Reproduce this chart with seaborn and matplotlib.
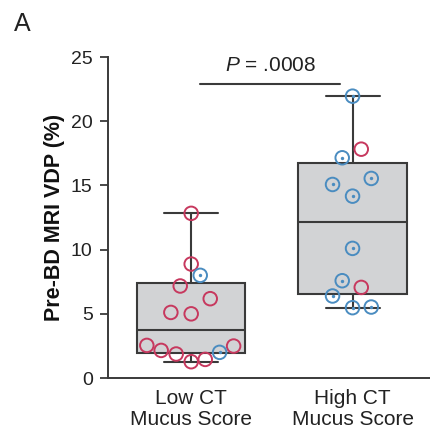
import matplotlib
matplotlib.use("Agg")
import matplotlib.pyplot as plt
import numpy as np
import pandas as pd
import seaborn as sns

# values (VDP %) with the horizontal jitter of each point
groups = ["Low CT\nMucus Score", "High CT\nMucus Score"]

low_vdp = [12.83, 8.88, 8.0, 7.17, 6.18, 5.11, 5.0, 2.54, 2.15, 1.87, 1.27, 1.45, 2.0, 2.49]
low_jitter = [0.0, 0.0, 0.056, -0.068, 0.118, -0.126, 0.0, -0.275, -0.186, -0.093, 0.0, 0.087, 0.176, 0.263]
low_kind = ["red", "red", "blue", "red", "red", "red", "red", "red", "red", "red", "red", "red", "blue", "red"]

high_vdp = [21.96, 17.83, 17.16, 15.08, 15.55, 14.17, 10.1, 7.58, 7.06, 6.39, 5.48, 5.53]
high_jitter = [0.0, 0.054, -0.064, -0.124, 0.116, 0.0, 0.0, -0.064, 0.054, -0.124, 0.0, 0.116]
high_kind = ["blue", "red", "blue", "blue", "blue", "blue", "blue", "blue", "red", "blue", "blue", "blue"]

p_label = "$P$ = .0008"
yticks = [0, 5, 10, 15, 20, 25]

RED = "#c7385e"
BLUE = "#4a8cc0"
DARK = "#3a3a3a"
BOXFILL = "#d2d3d5"

df = pd.DataFrame({
    "group": [0] * len(low_vdp) + [1] * len(high_vdp),
    "vdp": low_vdp + high_vdp,
    "jitter": low_jitter + high_jitter,
    "kind": low_kind + high_kind,
})
df["x"] = df["group"] + df["jitter"]

sns.set_theme(style="ticks")
plt.rcParams["font.family"] = ["Liberation Sans", "DejaVu Sans"]
plt.rcParams["mathtext.fontset"] = "custom"
plt.rcParams["mathtext.it"] = "Liberation Sans:italic"
plt.rcParams["mathtext.rm"] = "Liberation Sans"

fig = plt.figure(figsize=(4.30, 4.33), dpi=100)
ax = fig.add_axes([0.251, 0.127, 0.749, 0.741])

# box stats with the (n+1)p quartile rule, whiskers at min / max
stats = []
for g, lab in enumerate(groups):
    v = df.loc[df["group"] == g, "vdp"].to_numpy()
    q1, med, q3 = np.percentile(v, [25, 50, 75], method="weibull")
    stats.append({"med": med, "q1": q1, "q3": q3,
                  "whislo": v.min(), "whishi": v.max(), "fliers": [], "label": lab})

line_kw = dict(color=DARK, linewidth=1.5)
ax.bxp(stats, positions=[0, 1], widths=0.67, patch_artist=True, showfliers=False,
       boxprops=dict(facecolor=BOXFILL, edgecolor=DARK, linewidth=1.5),
       medianprops=line_kw, whiskerprops=line_kw, capprops=line_kw)

for kind, col in [("red", RED), ("blue", BLUE)]:
    sub = df[df["kind"] == kind]
    sns.scatterplot(data=sub, x="x", y="vdp", ax=ax, color=col, facecolor="none",
                    edgecolor=col, s=95, linewidth=1.4, zorder=3, legend=False)
blue = df[df["kind"] == "blue"]
sns.scatterplot(data=blue, x="x", y="vdp", ax=ax, color=BLUE, edgecolor=BLUE, s=6,
                linewidth=0, zorder=4, legend=False)

# significance bracket
ax.plot([0.056, 0.925], [22.87, 22.87], color=DARK, linewidth=1.5)
ax.text(0.49, 23.9, p_label, ha="center", va="baseline", fontsize=15, color="#222222")

ax.set_xlim(-0.516, 1.48)
ax.set_ylim(0, 25)
ax.set_yticks(yticks)
ax.set_xticks([0, 1])
ax.set_xticklabels(groups, fontsize=15, color="#222222", linespacing=1.15)
ax.tick_params(axis="x", length=0, pad=8)
ax.tick_params(axis="y", length=6, width=1.3, color=DARK, pad=5, labelsize=14,
               labelcolor="#222222")
ax.set_xlabel("")
ax.set_ylabel("Pre-BD MRI VDP (%)", fontsize=15.5, fontweight="bold", color="#111111",
              labelpad=4)
sns.despine(ax=ax)
for side in ["left", "bottom"]:
    ax.spines[side].set_color(DARK)
    ax.spines[side].set_linewidth(1.4)

fig.text(14 / 430, (433 - 31) / 433, "A", fontsize=18, ha="left", va="baseline",
         color="#222222")

fig.savefig("out.png", dpi=100)
